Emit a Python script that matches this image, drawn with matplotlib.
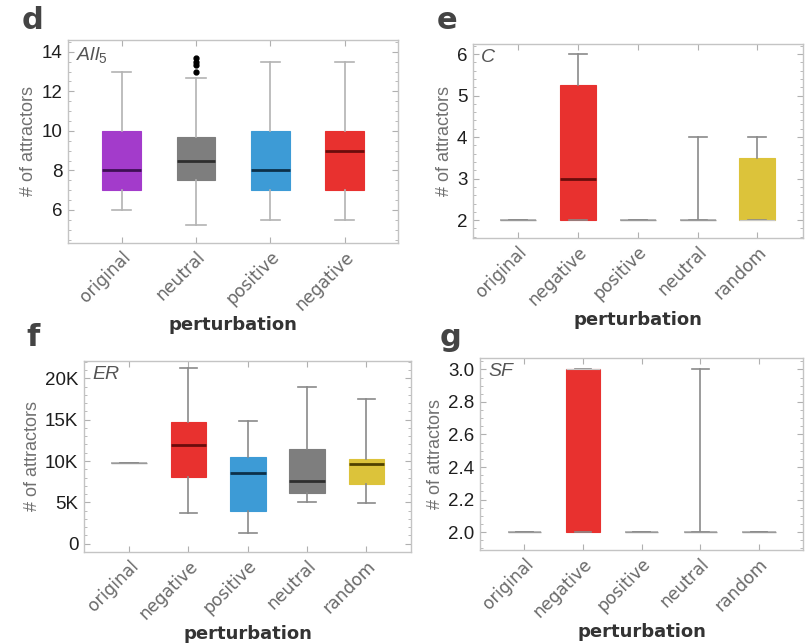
import matplotlib
matplotlib.use("Agg")
import matplotlib.pyplot as plt
from matplotlib.ticker import AutoMinorLocator, FuncFormatter, MultipleLocator

plt.rcParams["font.family"] = ["Liberation Sans", "DejaVu Sans"]
plt.rcParams["mathtext.fontset"] = "custom"
plt.rcParams["mathtext.it"] = "Liberation Sans:italic"
plt.rcParams["mathtext.rm"] = "Liberation Sans"

# ---- data: (whisker low, Q1, median, Q3, whisker high) per category ----
cats_d = ["original", "neutral", "positive", "negative"]
lo_d = [6.0, 5.25, 5.5, 5.5]
q1_d = [7.0, 7.5, 7.0, 7.0]
med_d = [8.0, 8.5, 8.0, 9.0]
q3_d = [10.0, 9.67, 10.0, 10.0]
hi_d = [13.0, 12.67, 13.5, 13.5]
fliers_d = [[], [13.0, 13.33, 13.5, 13.67], [], []]

cats_e = ["original", "negative", "positive", "neutral", "random"]
lo_e = [2, 2, 2, 2, 2]
q1_e = [2, 2, 2, 2, 2]
med_e = [2, 3, 2, 2, 2]
q3_e = [2, 5.25, 2, 2, 3.5]
hi_e = [2, 6, 2, 4, 4]

cats_f = ["original", "negative", "positive", "neutral", "random"]
lo_f = [9800, 3700, 1300, 5000, 4900]
q1_f = [9800, 8070, 3900, 6100, 7200]
med_f = [9800, 11900, 8600, 7600, 9600]
q3_f = [9800, 14670, 10500, 11400, 10250]
hi_f = [9800, 21300, 14800, 18900, 17500]

cats_g = ["original", "negative", "positive", "neutral", "random"]
lo_g = [2.0, 2.0, 2.0, 2.0, 2.0]
q1_g = [2.0, 2.0, 2.0, 2.0, 2.0]
med_g = [2.0, 3.0, 2.0, 2.0, 2.0]
q3_g = [2.0, 3.0, 2.0, 2.0, 2.0]
hi_g = [2.0, 3.0, 2.0, 3.0, 2.0]

colors = {
    "original": "#a33bcb",
    "neutral": "#7e7e7e",
    "positive": "#3d9bd6",
    "negative": "#e8312f",
    "random": "#dcc33a",
}
median_colors = {
    "original": "#3e0f55",
    "neutral": "#2e2e2e",
    "positive": "#0c3049",
    "negative": "#6a0c0c",
    "random": "#4f4100",
}

FRAME = "#c4c4c4"


def draw_panel(ax, cats, lo, q1, med, q3, hi, fliers, width, ylim, xlim,
               whisker_color, tag):
    stats = []
    for i, c in enumerate(cats):
        stats.append(dict(whislo=lo[i], q1=q1[i], med=med[i], q3=q3[i],
                          whishi=hi[i], fliers=fliers[i] if fliers else []))
    pos = list(range(1, len(cats) + 1))
    bp = ax.bxp(stats, positions=pos, widths=width, capwidths=width * 0.5,
                patch_artist=True, showfliers=True,
                whiskerprops=dict(color=whisker_color, lw=1.2),
                capprops=dict(color=whisker_color, lw=1.2),
                flierprops=dict(marker="o", markerfacecolor="black",
                                markeredgecolor="black", markersize=3.5))
    for i, c in enumerate(cats):
        flat = q1[i] == q3[i]
        box = bp["boxes"][i]
        median = bp["medians"][i]
        if flat:
            box.set_facecolor("none")
            box.set_edgecolor("#b0b0b0")
            box.set_linewidth(1.2)
            median.set_color("#9a9a9a")
            median.set_linewidth(1.0)
        else:
            box.set_facecolor(colors[c])
            box.set_edgecolor(colors[c])
            box.set_linewidth(0.8)
            if med[i] in (q1[i], q3[i]):
                # median sitting on a box edge: keep it as a faint edge line
                median.set_color("#c8c8c8")
                median.set_linewidth(0.8)
            else:
                median.set_color(median_colors[c])
                median.set_linewidth(2.0)
    ax.set_xlim(*xlim)
    ax.set_ylim(*ylim)
    ax.set_xticks(pos)
    ax.set_xticklabels(cats, rotation=45, ha="right", rotation_mode="anchor",
                       fontsize=12.3, color="#6a6a6a", family="DejaVu Sans")
    for s in ax.spines.values():
        s.set_color(FRAME)
        s.set_linewidth(1.0)
    ax.tick_params(axis="both", which="both", direction="in", top=True,
                   right=True, color="#b0b0b0")
    ax.tick_params(axis="both", which="major", length=4)
    ax.tick_params(axis="both", which="minor", length=2)
    ax.tick_params(axis="x", which="minor", bottom=False, top=False)
    ax.tick_params(axis="y", labelsize=13.5, labelcolor="#1e1e1e", pad=4)
    ax.set_ylabel("# of attractors", fontsize=13, color="#707070", labelpad=3)
    ax.set_xlabel("perturbation", fontsize=13, fontweight="bold",
                  color="#333333", family="DejaVu Sans", labelpad=2)
    ax.text(0.025, 0.975, tag, transform=ax.transAxes, ha="left", va="top",
            fontsize=14, style="italic", color="#555555")
    return ax


fig = plt.figure(figsize=(8.07, 6.44), dpi=100)

ax_d = fig.add_axes([0.0843, 0.6227, 0.4089, 0.3152])
draw_panel(ax_d, cats_d, lo_d, q1_d, med_d, q3_d, hi_d, fliers_d, 0.52,
           (4.33, 14.6), (0.28, 4.72), "#b3b3b3", r"$All_5$")
ax_d.yaxis.set_major_locator(MultipleLocator(2))
ax_d.yaxis.set_minor_locator(AutoMinorLocator(4))

ax_e = fig.add_axes([0.5861, 0.6304, 0.4089, 0.3012])
draw_panel(ax_e, cats_e, lo_e, q1_e, med_e, q3_e, hi_e, None, 0.6,
           (1.57, 6.24), (0.25, 5.76), "#8a8a8a", "C")
ax_e.yaxis.set_major_locator(MultipleLocator(1))
ax_e.yaxis.set_minor_locator(AutoMinorLocator(5))

ax_f = fig.add_axes([0.1041, 0.1429, 0.4052, 0.2966])
draw_panel(ax_f, cats_f, lo_f, q1_f, med_f, q3_f, hi_f, None, 0.6,
           (-1000, 22100), (0.24, 5.75), "#8a8a8a", "ER")
ax_f.yaxis.set_major_locator(MultipleLocator(5000))
ax_f.yaxis.set_minor_locator(AutoMinorLocator(5))
ax_f.yaxis.set_major_formatter(
    FuncFormatter(lambda v, p: "0" if v == 0 else f"{int(round(v / 1000))}K"))

ax_g = fig.add_axes([0.5948, 0.1460, 0.4002, 0.2981])
draw_panel(ax_g, cats_g, lo_g, q1_g, med_g, q3_g, hi_g, None, 0.57,
           (1.89, 3.07), (0.245, 5.75), "#8a8a8a", "SF")
ax_g.yaxis.set_major_locator(MultipleLocator(0.2))
ax_g.yaxis.set_major_formatter(FuncFormatter(lambda v, p: f"{v:.1f}"))
ax_g.yaxis.set_minor_locator(AutoMinorLocator(4))

# panel letters
for x, y, letter in [(0.027, 0.955, "d"), (0.541, 0.955, "e"),
                     (0.033, 0.462, "f"), (0.545, 0.462, "g")]:
    fig.text(x, y, letter, fontsize=22, fontweight="bold", color="#444444",
             family="DejaVu Sans", ha="left", va="baseline")

fig.savefig("out.png", dpi=100)
